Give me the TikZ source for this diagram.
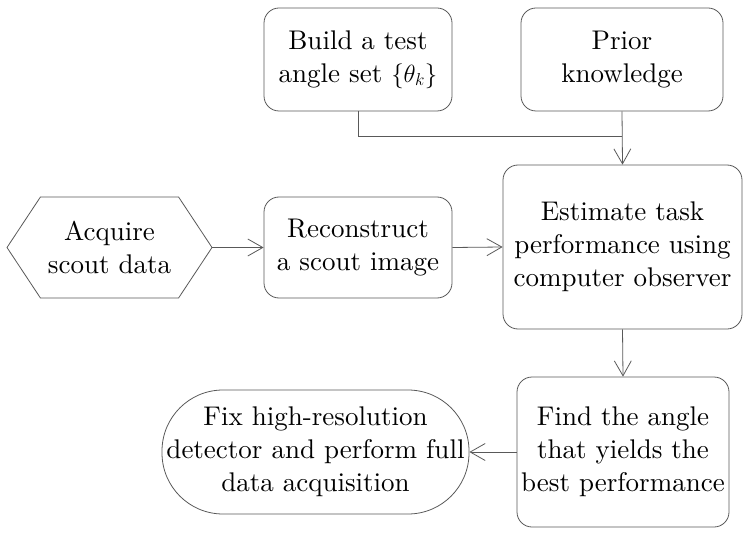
\documentclass[tikz,border=0pt]{standalone}
\usepackage{fontspec}
\setmainfont{lmroman10-regular.otf}[ItalicFont=lmroman10-italic.otf, BoldFont=lmroman10-bold.otf]
\usepackage{tikz}
\usetikzlibrary{shapes.symbols, arrows.meta}

\begin{document}
\begin{tikzpicture}
                        [
                            x=1pt, y=-1pt,
                            step box/.style = {draw=black!65, shape=rectangle, rounded corners=15pt, align=center, inner sep=0pt, line width=0.8pt, font=\fontsize{27}{33}\selectfont},
                            hexa/.style = {draw=black!65, shape=signal, signal to=west and east, signal pointer angle=113, align=center, inner sep=0pt, line width=0.8pt, font=\fontsize{27}{33}\selectfont},
                            pill/.style = {draw=black!65, shape=rectangle, rounded corners=61pt, align=center, inner sep=0pt, line width=0.8pt, font=\fontsize{27}{33}\selectfont},
                            flow/.style = {draw=black!65, line width=0.8pt, -{Straight Barb[length=15pt, width=17pt]}},
                        ]
                        \useasboundingbox (0,0) rectangle (751,537);

                        \node[step box, minimum width=188pt, minimum height=103pt] (build) at (358,59.5)   {Build a test\\angle set $\{\theta_k\}$};
                        \node[step box, minimum width=202pt, minimum height=103pt] (prior) at (622,59.5)   {Prior\\knowledge};

                        \node[hexa, minimum width=205pt, minimum height=101pt] (acquire) at (109.5,247.5)   {Acquire\\scout data};
                        \node[step box, minimum width=188pt, minimum height=101pt] (recon) at (358,247.5)   {Reconstruct\\a scout image};
                        \node[step box, minimum width=239pt, minimum height=164pt] (estimate) at (622.5,247)   {Estimate task\\performance using\\computer observer};

                        \node[step box, minimum width=212pt, minimum height=150pt] (find) at (623,452)   {Find the angle\\that yields the\\best performance};
                        \node[pill, minimum width=307pt, minimum height=124pt] (fix) at (315.5,452)   {Fix high-resolution\\detector and perform full\\data acquisition};

                        \coordinate (join) at (622,136);

                        \draw [draw=black!65, line width=0.8pt] (build.south) |- (join);
                        \draw [flow] (prior.south) -- (estimate.north);

                        \draw [flow] (acquire.east) -- (recon.west);
                        \draw [flow] (recon.east) -- (estimate.west);

                        \draw [flow] (estimate.south) -- (find.north);
                        \draw [flow] (find.west) -- (fix.east);

                    \end{tikzpicture}
\end{document}
